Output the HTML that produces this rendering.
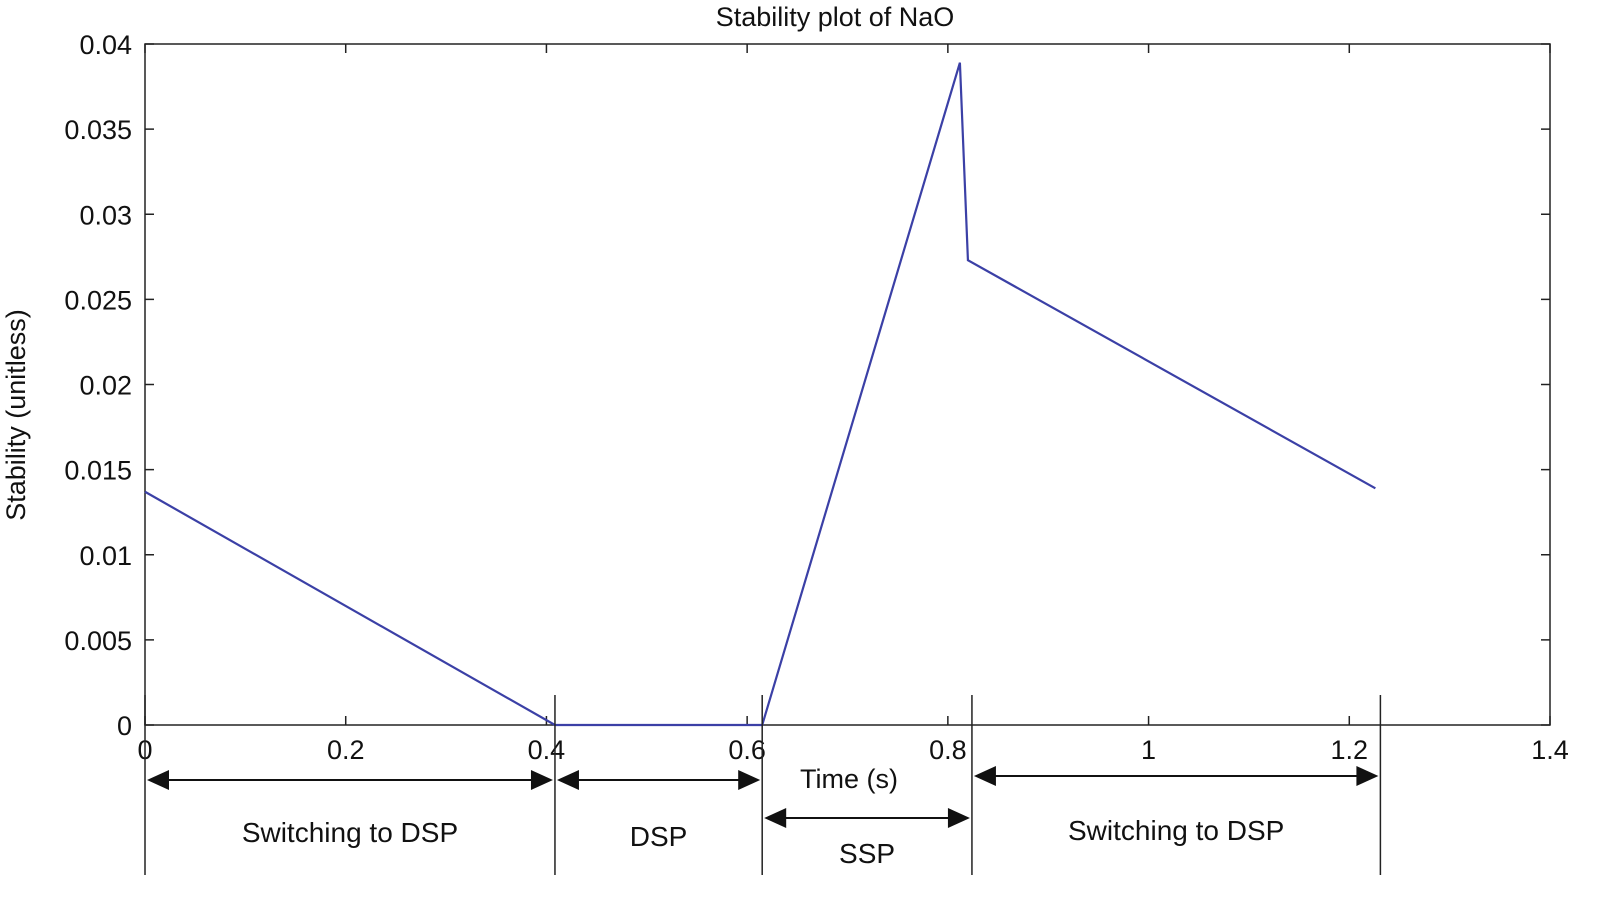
<!DOCTYPE html>
<html><head><meta charset="utf-8"><style>
body{margin:0;background:#fff}
svg{display:block;font-family:"Liberation Sans",Arial,sans-serif}
</style></head><body>
<svg id="c" width="1622" height="905" viewBox="0 0 1622 905"></svg>
<script>
const xTicks=[0,0.2,0.4,0.6,0.8,1,1.2,1.4];
const xTickLabels=["0","0.2","0.4","0.6","0.8","1","1.2","1.4"];
const yTicks=[0,0.005,0.01,0.015,0.02,0.025,0.03,0.035,0.04];
const yTickLabels=["0","0.005","0.01","0.015","0.02","0.025","0.03","0.035","0.04"];
const timeVals=[0,0.4085,0.615,0.812,0.82,1.226];
const stabilityVals=[0.0137,0,0,0.0389,0.0273,0.0139];
const phaseBounds=[0,0.4085,0.615,0.824,1.231];
const phaseLabels=["Switching to DSP","DSP","SSP","Switching to DSP"];

const L=145,R=1550,T=44,B=725;
const sx=v=>L+v/1.4*(R-L);
const sy=v=>B-v/0.04*(B-T);
const svg=document.getElementById('c');
const NS="http://www.w3.org/2000/svg";
function mk(tag,attrs,parent){const e=document.createElementNS(NS,tag);for(const k in attrs)e.setAttribute(k,attrs[k]);(parent||svg).appendChild(e);return e;}

let t=mk('text',{x:835,y:26,'font-size':27,'text-anchor':'middle',fill:'#111'});t.textContent="Stability plot of NaO";



let fr=mk('rect',{x:L,y:T,width:R-L,height:B-T,fill:'none',stroke:'#222','stroke-width':1.5});



xTicks.forEach((v,i)=>{
  const x=sx(v);
  mk('line',{x1:x,y1:B,x2:x,y2:B-9,stroke:'#222','stroke-width':1.5});
  mk('line',{x1:x,y1:T,x2:x,y2:T+9,stroke:'#222','stroke-width':1.5});
  const tl=mk('text',{x:x,y:B+34,'font-size':27,'text-anchor':'middle',fill:'#111'});tl.textContent=xTickLabels[i];
  
  
});
yTicks.forEach((v,i)=>{
  const y=sy(v);
  mk('line',{x1:L,y1:y,x2:L+9,y2:y,stroke:'#222','stroke-width':1.5});
  mk('line',{x1:R,y1:y,x2:R-9,y2:y,stroke:'#222','stroke-width':1.5});
  const tl=mk('text',{x:L-13,y:y+10,'font-size':27,'text-anchor':'end',fill:'#111'});tl.textContent=yTickLabels[i];
  
  
});
let yt=mk('text',{x:0,y:0,'font-size':27,'text-anchor':'middle',fill:'#111',transform:'translate(25,415) rotate(-90)'});yt.textContent="Stability (unitless)";


let xt=mk('text',{x:849,y:788,'font-size':27,'text-anchor':'middle',fill:'#111'});xt.textContent="Time (s)";



let pts=timeVals.map((v,i)=>sx(v)+','+sy(stabilityVals[i])).join(' ');
let ln=mk('polyline',{points:pts,fill:'none',stroke:'#3b40a6','stroke-width':2.2});



phaseBounds.forEach(v=>{
  const x=sx(v);
  const vl=mk('line',{x1:x,y1:695,x2:x,y2:875,stroke:'#222','stroke-width':1.5});
  
  
});
const arrowY=[780,780,818,776];
const labelY=[842,846,863,840];
function arrow(x1,x2,y){
  const g=mk('g',{});
  mk('line',{x1:x1+18,y1:y,x2:x2-18,y2:y,stroke:'#111','stroke-width':2},g);
  mk('polygon',{points:`${x1},${y} ${x1+22},${y-10} ${x1+22},${y+10}`,fill:'#111'},g);
  mk('polygon',{points:`${x2},${y} ${x2-22},${y-10} ${x2-22},${y+10}`,fill:'#111'},g);
  return g;
}
phaseLabels.forEach((lab,i)=>{
  const x1=sx(phaseBounds[i])+2,x2=sx(phaseBounds[i+1])-2;
  const a=arrow(x1,x2,arrowY[i]);
  
  
  const tx=mk('text',{x:(x1+x2)/2,y:labelY[i],'font-size':28,'text-anchor':'middle',fill:'#111'});tx.textContent=lab;
  
  
});
</script>
</body></html>
